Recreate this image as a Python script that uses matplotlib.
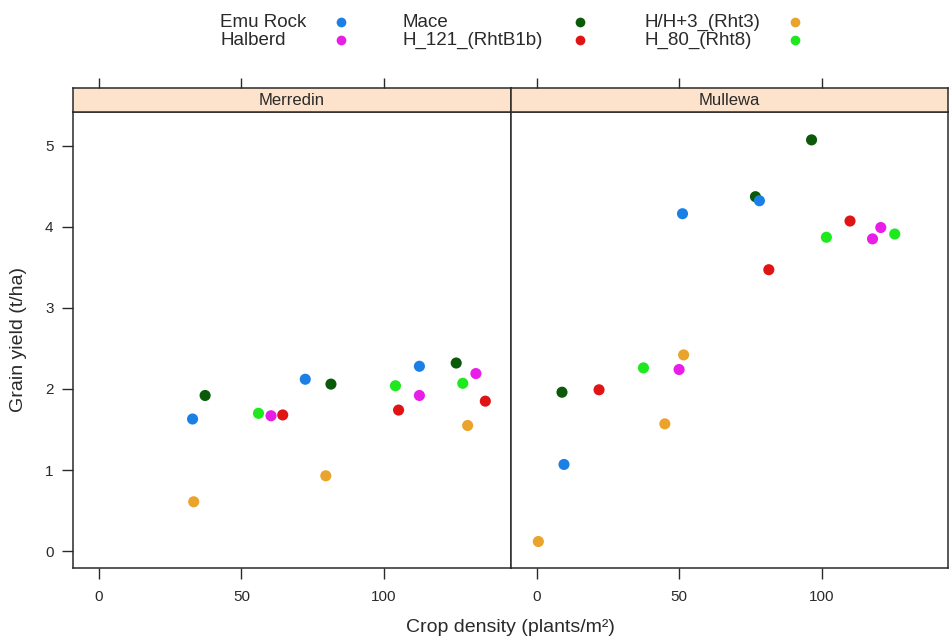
#!/usr/bin/env python3
"""Grain yield vs crop density, two sites side by side (lattice-style panels)."""

import matplotlib

matplotlib.use("Agg")
import matplotlib.pyplot as plt
from matplotlib.lines import Line2D
from matplotlib.patches import Rectangle

plt.rcParams["font.family"] = ["Liberation Sans", "DejaVu Sans"]

sites = ["Merredin", "Mullewa"]
genotypes = ["Emu Rock", "Mace", "H/H+3_(Rht3)", "Halberd", "H_121_(RhtB1b)", "H_80_(Rht8)"]
colours = {
    "Emu Rock": "#1b80e6",
    "Halberd": "#e81ee8",
    "Mace": "#0a5a0a",
    "H_121_(RhtB1b)": "#e01414",
    "H/H+3_(Rht3)": "#eaa42c",
    "H_80_(Rht8)": "#1ee81e",
}
# Mace is drawn first, the others on top of it
draw_order = ["Mace", "Emu Rock", "H/H+3_(Rht3)", "Halberd", "H_121_(RhtB1b)", "H_80_(Rht8)"]

# crop density (plants/m2) and grain yield (t/ha) per site and genotype
merredin_density = {
    "Emu Rock": [32.9, 72.4, 112.4],
    "Mace": [37.3, 81.4, 125.3],
    "H/H+3_(Rht3)": [33.3, 79.6, 129.3],
    "H_80_(Rht8)": [56.0, 104.0, 127.6],
    "Halberd": [60.4, 112.4, 132.2],
    "H_121_(RhtB1b)": [64.5, 105.1, 135.5],
}
merredin_yield = {
    "Emu Rock": [1.63, 2.12, 2.28],
    "Mace": [1.92, 2.06, 2.32],
    "H/H+3_(Rht3)": [0.61, 0.93, 1.55],
    "H_80_(Rht8)": [1.70, 2.04, 2.07],
    "Halberd": [1.67, 1.92, 2.19],
    "H_121_(RhtB1b)": [1.68, 1.74, 1.85],
}
mullewa_density = {
    "Emu Rock": [9.6, 51.2, 78.2],
    "Mace": [8.9, 76.8, 96.5],
    "H/H+3_(Rht3)": [0.6, 45.0, 51.6],
    "H_80_(Rht8)": [37.5, 101.7, 125.7],
    "Halberd": [50.0, 117.9, 120.8],
    "H_121_(RhtB1b)": [21.9, 81.5, 110.0],
}
mullewa_yield = {
    "Emu Rock": [1.07, 4.16, 4.32],
    "Mace": [1.96, 4.37, 5.07],
    "H/H+3_(Rht3)": [0.12, 1.57, 2.42],
    "H_80_(Rht8)": [2.26, 3.87, 3.91],
    "Halberd": [2.24, 3.85, 3.99],
    "H_121_(RhtB1b)": [1.99, 3.47, 4.07],
}
x_ticks = [0, 50, 100]
y_ticks = [0, 1, 2, 3, 4, 5]

W, H = 950, 638
TEXT = "#2a2a2a"
FRAME = "#2a2a2a"


def fx(px):
    return px / W


def fy(py):
    return 1 - py / H


fig = plt.figure(figsize=(W / 100, H / 100), dpi=100)

panel_top, panel_bot = 112.3, 568.3
strip_top = 88.3
edges = [73, 511, 948.3]
data = [(merredin_density, merredin_yield), (mullewa_density, mullewa_yield)]

for i, site in enumerate(sites):
    left, right = edges[i], edges[i + 1]
    ax = fig.add_axes([fx(left), fy(panel_bot), fx(right - left), (panel_bot - panel_top) / H])
    dens, yld = data[i]
    for g in draw_order:
        ax.scatter(dens[g], yld[g], s=64, color=colours[g], edgecolors="none", zorder=3)
    ax.set_xlim(-9, 144.5)
    ax.set_ylim(-0.21, 5.41)
    ax.set_xticks(x_ticks)
    ax.set_yticks(y_ticks)
    ax.tick_params(axis="both", direction="out", length=8, width=1, color=FRAME,
                   labelsize=11, labelcolor=TEXT)
    ax.tick_params(axis="x", pad=7.5)
    ax.tick_params(axis="y", pad=6)
    if i > 0:
        ax.tick_params(axis="y", left=False, labelleft=False)
    for sp in ax.spines.values():
        sp.set_linewidth(1.1)
        sp.set_color(FRAME)

    # strip with site name, top ticks above it
    st = fig.add_axes([fx(left), fy(panel_top), fx(right - left), (panel_top - strip_top) / H])
    st.add_patch(Rectangle((0, 0), 1, 1, transform=st.transAxes, color="#fde3cc", zorder=0))
    st.set_xlim(-9, 144.5)
    st.set_ylim(0, 1)
    st.set_yticks([])
    st.set_xticks(x_ticks)
    st.tick_params(axis="x", bottom=False, labelbottom=False, top=True, labeltop=False,
                   direction="out", length=7, width=1, color=FRAME)
    for sp in st.spines.values():
        sp.set_linewidth(1.1)
        sp.set_color(FRAME)
    st.text(0.5, 0.5, site, transform=st.transAxes, ha="center", va="center",
            fontsize=12, color=TEXT)

fig.text(fx(510), fy(628), "Crop density (plants/m²)", ha="center", va="center",
         fontsize=14, color=TEXT)
fig.text(fx(19), fy(340), "Grain yield (t/ha)", ha="center", va="center",
         rotation=90, fontsize=14, color=TEXT)

# legend: three columns, two rows
legend_cols = [
    (220, 341, ["Emu Rock", "Halberd"]),
    (402, 580, ["Mace", "H_121_(RhtB1b)"]),
    (645, 795, ["H/H+3_(Rht3)", "H_80_(Rht8)"]),
]
row_y = [22.5, 40.5]
for text_x, mark_x, names in legend_cols:
    for r, name in enumerate(names):
        fig.text(fx(text_x), fy(row_y[r]), name, ha="left", va="center",
                 fontsize=13.5, color=TEXT)
        fig.add_artist(Line2D([fx(mark_x)], [fy(row_y[r] - 1)], marker="o", markersize=7,
                              markeredgewidth=0, color=colours[name], transform=fig.transFigure))

fig.savefig("out.png", dpi=100)
